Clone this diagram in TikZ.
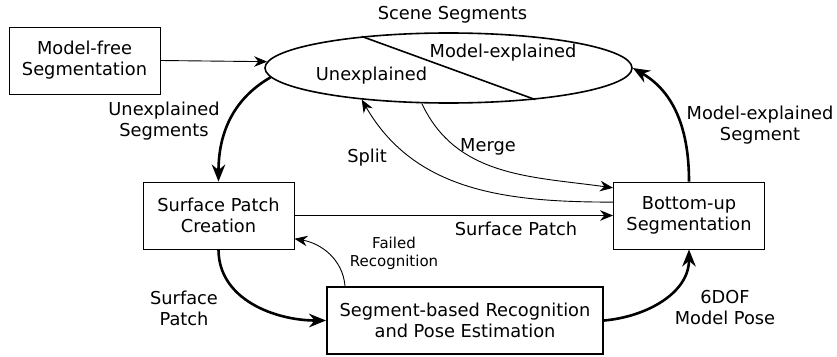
\documentclass[tikz,border=0pt]{standalone}
\usepackage{fontspec}
\setmainfont{DejaVu Sans}
\usetikzlibrary{arrows.meta,shapes.geometric}
\begin{document}
\begin{tikzpicture}[x=1pt,y=-1pt,
  font=\fontsize{17.8}{21}\selectfont,
  procbox/.style={draw, line width=0.9pt, minimum width=151pt, minimum height=67pt,
                  inner sep=0pt, align=center},
  lbl/.style={align=center, inner sep=0pt},
  smalllbl/.style={lbl, font=\fontsize{15}{18}\selectfont},
  thinarrow/.style={line width=0.9pt, -{Stealth[length=13pt,width=10.5pt]}},
  thickarrow/.style={line width=2.6pt, -{Stealth[length=17pt,width=13.5pt]}},
]
\useasboundingbox (0,0) rectangle (837,356);

% processing steps
\node[procbox] (mfs) at (84.5,60.5) {Model-free\\Segmentation};
\node[procbox] (spc) at (218.5,215.5) {Surface Patch\\Creation};
\node[procbox] (bus) at (689,215.5) {Bottom-up\\Segmentation};
\node[procbox, line width=1.8pt, minimum width=276pt] (sbr) at (465,320.5)
  {Segment-based Recognition\\and Pose Estimation};

% scene segment store
\node[draw, ellipse, line width=1.6pt, minimum width=367pt, minimum height=70pt,
      inner sep=0pt] (sseg) at (448.5,68) {};
\draw[line width=1.6pt] (sseg.160) -- (sseg.-20);
\node[lbl] (title) at (452.5,15) {Scene Segments};
\node[lbl] (mex) at (503,53) {Model-explained};
\node[lbl] (unx) at (371.5,76) {Unexplained};

% main loop
\draw[thinarrow] (mfs.east) -- (sseg.178);
\draw[thickarrow] (sseg.183) to[out=210, in=90] (spc.north);
\draw[thickarrow] (spc.south) to[out=-90, in=180] (sbr.west);
\draw[thickarrow] (sbr.east) to[out=5, in=-90] (bus.south);
\draw[thickarrow] (bus.north) to[out=90, in=-30] (sseg.east);

% side paths
\draw[thinarrow] (spc.east) -- (bus.west);
\draw[thinarrow] (sseg.233) to[out=-65, in=172] (bus.160);
\draw[thinarrow] (bus.170) to[out=180, in=-60] (sseg.200);
\draw[thinarrow] (sbr.164) to[out=95, in=-10] (spc.-17);

% connector labels
\node[lbl] (lunx) at (164,121) {Unexplained\\Segments};
\node[lbl] (lsp1) at (184,308) {Surface\\Patch};
\node[lbl] (ldof) at (725,308) {6DOF\\Model Pose};
\node[lbl] (lmes) at (760,125) {Model-explained\\Segment};
\node[lbl] (lmrg) at (488,147) {Merge};
\node[lbl] (lspl) at (367,158) {Split};
\node[lbl] (lsp2) at (516,229) {Surface Patch};
\node[smalllbl] (lfail) at (394,253) {Failed\\Recognition};
\end{tikzpicture}
\end{document}
